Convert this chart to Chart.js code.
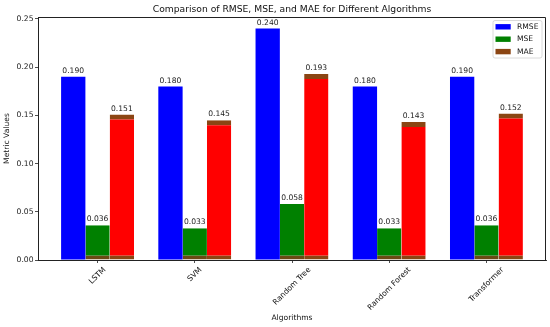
<!DOCTYPE html>
<html>
<head>
<meta charset="utf-8">
<script src="https://cdn.jsdelivr.net/npm/chart.js@4.4.0/dist/chart.umd.min.js"></script>
<style>
html, body { margin: 0; padding: 0; background: #fff; }
#wrap { width: 550px; height: 327px; }
</style>
</head>
<body>
<div id="wrap"><canvas id="metricsChart" width="550" height="327"></canvas></div>
<script>
// chart data
const algorithms = ['LSTM', 'SVM', 'Random Tree', 'Random Forest', 'Transformer'];
const rmseValues = [0.190, 0.180, 0.240, 0.180, 0.190];
const mseValues = [0.036, 0.033, 0.058, 0.033, 0.036];
const maeValues = [0.151, 0.145, 0.193, 0.143, 0.152];
const yTicks = [0.00, 0.05, 0.10, 0.15, 0.20, 0.25];
const seriesNames = ['RMSE', 'MSE', 'MAE'];

const FONT = 'DejaVu Sans';
const BROWN = '#8b4513';

function toPoints(values) {
    return values.map((v, i) => ({ x: i, y: v }));
}

// titles, value labels, frame, legend and rotated x labels
const overlay = {
    id: 'overlay',
    afterDraw(chart) {
        const ctx = chart.ctx;
        const a = chart.chartArea;
        ctx.save();

        // top and right spines
        ctx.strokeStyle = '#222';
        ctx.lineWidth = 1;
        ctx.beginPath();
        ctx.moveTo(a.left, a.top + 0.5);
        ctx.lineTo(a.right - 0.5, a.top + 0.5);
        ctx.lineTo(a.right - 0.5, a.bottom);
        ctx.stroke();

        // value labels above bars
        ctx.fillStyle = '#222';
        ctx.font = '7.6px "' + FONT + '"';
        ctx.textAlign = 'center';
        ctx.textBaseline = 'bottom';
        chart.data.datasets.forEach((ds, di) => {
            const meta = chart.getDatasetMeta(di);
            meta.data.forEach((bar, i) => {
                ctx.fillText(ds.data[i].y.toFixed(3), bar.x, bar.y - 2);
            });
        });

        // title
        ctx.font = '9.2px "' + FONT + '"';
        ctx.textBaseline = 'alphabetic';
        ctx.fillStyle = '#111';
        ctx.fillText('Comparison of RMSE, MSE, and MAE for Different Algorithms', (a.left + a.right) / 2, 11.8);

        // axis titles
        ctx.font = '7.6px "' + FONT + '"';
        ctx.textBaseline = 'middle';
        ctx.fillText('Algorithms', (a.left + a.right) / 2, 318);
        ctx.save();
        ctx.translate(7, (a.top + a.bottom) / 2);
        ctx.rotate(-Math.PI / 2);
        ctx.fillText('Metric Values', 0, 0);
        ctx.restore();

        // rotated x tick labels, bbox centred under tick
        const xs = chart.scales.x;
        const lineH = 7.6 * 1.16;
        algorithms.forEach((name, i) => {
            const w = ctx.measureText(name).width;
            const boxH = (w + lineH) * Math.SQRT1_2;
            const cx = xs.getPixelForValue(i);
            const cy = a.bottom + 5.5 + boxH / 2;
            ctx.save();
            ctx.translate(cx, cy);
            ctx.rotate(-Math.PI / 4);
            ctx.fillText(name, 0, 0);
            ctx.restore();
        });

        // legend (upper right)
        const lx = 493, ly = 20.5, lw = 49, lh = 37.5;
        ctx.fillStyle = 'rgba(255,255,255,0.8)';
        ctx.strokeStyle = '#d0d0d0';
        ctx.lineWidth = 0.8;
        ctx.beginPath();
        ctx.roundRect(lx, ly, lw, lh, 2);
        ctx.fill();
        ctx.stroke();
        const swatches = ['#0000ff', '#008000', BROWN];
        ctx.textAlign = 'left';
        seriesNames.forEach((name, i) => {
            const yc = ly + 6.3 + i * 12.4;
            ctx.fillStyle = swatches[i];
            ctx.fillRect(495.5, yc - 2.7, 15.2, 5.4);
            ctx.fillStyle = '#111';
            ctx.fillText(name, 517, yc);
        });

        ctx.restore();
    }
};

const ctx = document.getElementById('metricsChart');
const metricsChart = new Chart(ctx.getContext('2d'), {
    type: 'bar',
    data: {
        datasets: [{
            label: 'RMSE',
            data: toPoints(rmseValues),
            backgroundColor: '#0000ff',
            borderWidth: 0
        }, {
            label: 'MSE',
            data: toPoints(mseValues),
            backgroundColor: '#008000',
            borderColor: '#6b4a14',
            borderWidth: { top: 0, left: 0, right: 0, bottom: 4 },
            borderSkipped: false
        }, {
            label: 'MAE',
            data: toPoints(maeValues),
            backgroundColor: '#ff0000',
            borderColor: BROWN,
            borderWidth: { top: 5, left: 0, right: 0, bottom: 4 },
            borderSkipped: false
        }]
    },
    options: {
        responsive: false,
        animation: false,
        layout: { padding: { top: 17, right: 4, left: 0, bottom: 0 } },
        datasets: {
            bar: { categoryPercentage: 0.75, barPercentage: 1.0, inflateAmount: 0 }
        },
        scales: {
            x: {
                type: 'linear',
                offset: false,
                min: -0.6125,
                max: 4.6125,
                afterBuildTicks: s => { s.ticks = algorithms.map((_, i) => ({ value: i })); },
                afterFit: s => { s.height = 67; },
                ticks: { display: false },
                grid: { offset: false, drawOnChartArea: false, drawTicks: true, tickLength: 3, color: '#222', lineWidth: 0.8 },
                border: { display: true, color: '#222', width: 1 }
            },
            y: {
                min: 0,
                max: 0.252,
                afterBuildTicks: s => { s.ticks = yTicks.map(v => ({ value: v })); },
                afterFit: s => { s.width = 38; },
                ticks: {
                    color: '#222',
                    padding: 1.5,
                    font: { family: FONT, size: 7.6 },
                    callback: v => Number(v).toFixed(2)
                },
                grid: { drawOnChartArea: false, drawTicks: true, tickLength: 3, color: '#222', lineWidth: 0.8 },
                border: { display: true, color: '#222', width: 1 }
            }
        },
        plugins: {
            legend: { display: false },
            title: { display: false },
            tooltip: { enabled: false }
        }
    },
    plugins: [overlay]
});
</script>
</body>
</html>
